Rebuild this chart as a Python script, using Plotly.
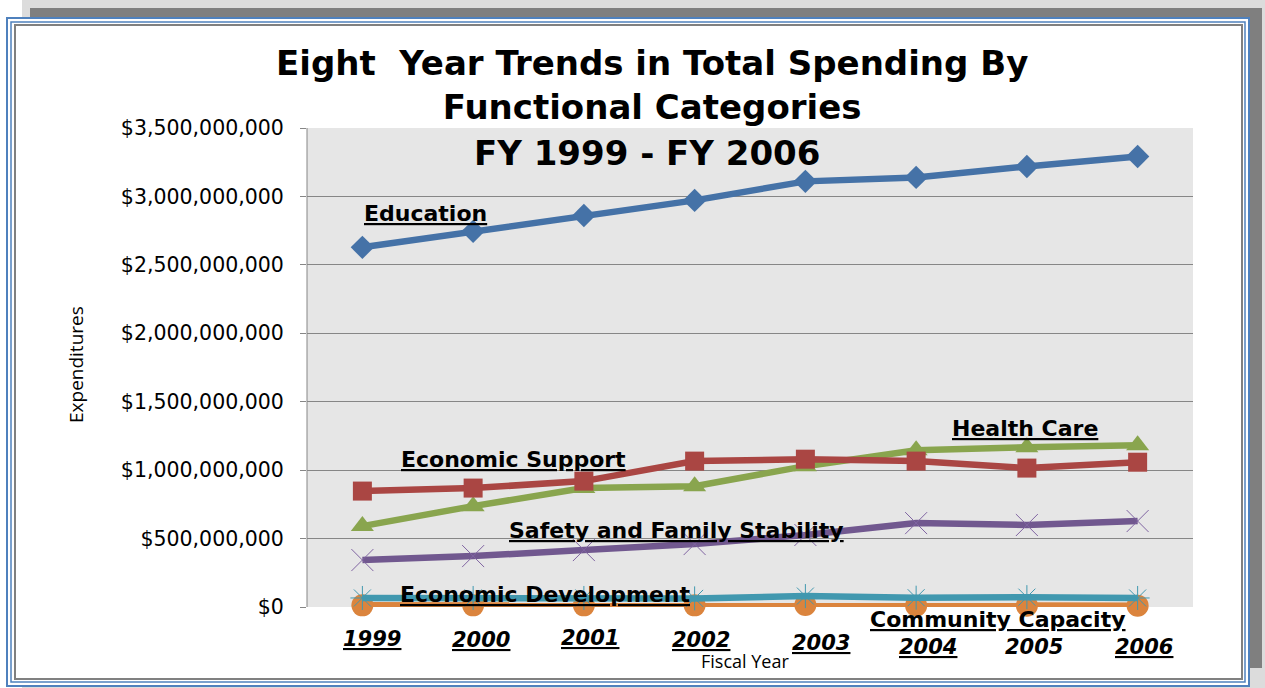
import plotly.graph_objects as go

years = ["1999", "2000", "2001", "2002", "2003", "2004", "2005", "2006"]
education = [2.628e9, 2.745e9, 2.861e9, 2.971e9, 3.110e9, 3.139e9, 3.219e9, 3.292e9]
economic_support = [0.847e9, 0.869e9, 0.920e9, 1.066e9, 1.080e9, 1.066e9, 1.015e9, 1.058e9]
health_care = [0.591e9, 0.737e9, 0.869e9, 0.883e9, 1.029e9, 1.146e9, 1.168e9, 1.182e9]
safety_family = [0.343e9, 0.372e9, 0.416e9, 0.460e9, 0.526e9, 0.613e9, 0.599e9, 0.628e9]
economic_dev = [0.066e9, 0.066e9, 0.066e9, 0.063e9, 0.080e9, 0.068e9, 0.072e9, 0.066e9]
community_cap = [0.012e9, 0.012e9, 0.012e9, 0.012e9, 0.015e9, 0.010e9, 0.010e9, 0.010e9]
y_ticks = [0, 5e8, 1e9, 1.5e9, 2e9, 2.5e9, 3e9, 3.5e9]
y_tick_text = ["$0", "$500,000,000", "$1,000,000,000", "$1,500,000,000", "$2,000,000,000",
               "$2,500,000,000", "$3,000,000,000", "$3,500,000,000"]

W, H = 1265, 688
L, R, T, B = 307, 72, 128, 81
PW, PH = W - L - R, H - T - B


def px(x):
    return (x - L) / PW


def py(y):
    return (T + PH - y) / PH


fig = go.Figure()

series = [
    ("Community Capacity", community_cap, "#DB843D", dict(symbol="circle", size=22, color="#DB843D")),
    ("Economic Development", economic_dev, "#4198AF", dict(symbol="asterisk-open", size=20, color="#4198AF", line=dict(width=1, color="#4BACC6"))),
    ("Safety and Family Stability", safety_family, "#71588F", dict(symbol="x-thin-open", size=22, color="#8064A2", line=dict(width=1, color="#8064A2"))),
    ("Health Care", health_care, "#89A54E", dict(symbol="triangle-up", size=20, color="#89A54E")),
    ("Economic Support", economic_support, "#AA4643", dict(symbol="square", size=19, color="#AA4643")),
    ("Education", education, "#4572A7", dict(symbol="diamond", size=18, color="#4572A7")),
]
for name, vals, col, mk in series:
    fig.add_trace(go.Scatter(x=years, y=vals, name=name, mode="lines+markers",
                             line=dict(color=col, width=6.5), marker=mk, cliponaxis=False))

shapes = [
    dict(type="rect", x0=px(22), x1=px(1265), y0=py(0), y1=py(688), fillcolor="#dcdcdc", line=dict(width=0)),
    dict(type="rect", x0=px(30), x1=px(1262), y0=py(8), y1=py(668), fillcolor="#7f7f7f", line=dict(width=0)),
    dict(type="rect", x0=px(7), x1=px(1249), y0=py(18), y1=py(686), fillcolor="white", line=dict(width=2, color="#4F81BD")),
    dict(type="rect", x0=px(11), x1=px(1245), y0=py(22), y1=py(682), fillcolor="rgba(0,0,0,0)", line=dict(width=1.5, color="#4F81BD")),
    dict(type="rect", x0=px(15), x1=px(1242), y0=py(25), y1=py(679), fillcolor="rgba(0,0,0,0)", line=dict(width=2, color="#808080")),
    dict(type="rect", x0=0, x1=1, y0=0, y1=1, fillcolor="#E6E6E6", line=dict(width=0)),
    dict(type="line", x0=0, x1=0, y0=0, y1=1, line=dict(width=1, color="#868686")),
]
for s in shapes:
    s.update(xref="paper", yref="paper", layer="below")

ann = []
ann.append(dict(text="<b>Eight  Year Trends in Total Spending By<br>Functional Categories</b>",
                x=px(652), y=py(85), xanchor="center", yanchor="middle",
                font=dict(family="DejaVu Sans", size=34, color="black")))
ann.append(dict(text="<b>FY 1999 - FY 2006</b>", x=px(647), y=py(153), xanchor="center", yanchor="middle",
                font=dict(family="DejaVu Sans", size=34, color="black")))
labels = [("Education", 425, 213), ("Economic Support", 513, 459), ("Health Care", 1025, 428),
          ("Safety and Family Stability", 676, 530), ("Economic Development", 545, 594),
          ("Community Capacity", 998, 619)]
for t, x, y in labels:
    ann.append(dict(text=f"<b><u>{t}</u></b>", x=px(x), y=py(y), xanchor="center", yanchor="middle",
                    font=dict(family="DejaVu Sans", size=22, color="black")))
x_label_dx = [10, 8, 6, 6, 16, 12, 7, 6]
x_label_y = [639, 640, 638, 640, 643, 647, 647, 647]
x_label_ul = [True, True, True, True, True, True, False, True]
for i, yr in enumerate(years):
    t = f"<u>{yr}</u>" if x_label_ul[i] else yr
    ann.append(dict(text=f"<b><i>{t}</i></b>", x=(i + 0.5) / len(years) + x_label_dx[i] / PW,
                    y=py(x_label_y[i]), xanchor="center", yanchor="middle",
                    font=dict(family="DejaVu Sans", size=21, color="black")))
ann.append(dict(text="Fiscal Year", x=px(745), y=py(661), xanchor="center", yanchor="middle",
                font=dict(family="Open Sans", size=18, color="black")))
ann.append(dict(text="Expenditures", x=px(76), y=py(365), xanchor="center", yanchor="middle", textangle=-90,
                font=dict(family="Open Sans", size=19, color="black")))
for a in ann:
    a.setdefault("xref", "paper")
    a.setdefault("yref", "paper")
    a["showarrow"] = False

fig.update_layout(
    width=W, height=H, margin=dict(l=L, r=R, t=T, b=B),
    paper_bgcolor="white", plot_bgcolor="#E6E6E6", showlegend=False,
    shapes=shapes, annotations=ann,
    xaxis=dict(type="category", range=[-0.5, 7.5], showticklabels=False, showgrid=False,
               zeroline=False, showline=False, ticks=""),
    yaxis=dict(range=[0, 3.5e9], tickvals=y_ticks, ticktext=y_tick_text, showgrid=True,
               gridcolor="#868686", gridwidth=1, zeroline=False, showline=False, ticks="outside",
               ticklen=6, tickcolor="#868686", ticklabelstandoff=12,
               tickfont=dict(family="DejaVu Sans", size=20.5, color="black")),
)
fig.write_html("out.html", config={"displayModeBar": False},
               post_script="document.body.style.margin='0';")
